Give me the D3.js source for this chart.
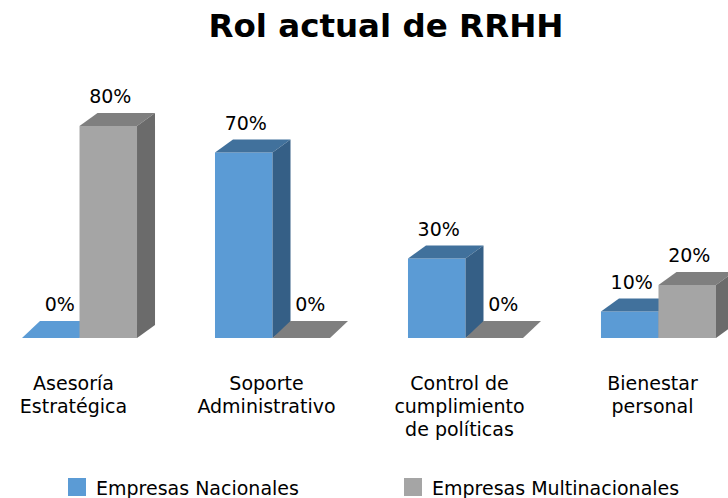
<!DOCTYPE html>
<html>
<head>
<meta charset="utf-8">
<script src="https://cdn.jsdelivr.net/npm/d3@7"></script>
<style>
  body { margin: 0; background: #fff; }
  text { font-family: "DejaVu Sans", Verdana, sans-serif; fill: #000; }
</style>
</head>
<body>
<svg id="SVG_CONTAINER" width="728" height="498"></svg>
<script>
// data
const categories = ["Asesoría Estratégica", "Soporte Administrativo", "Control de cumplimiento de políticas", "Bienestar personal"];
const categoryLines = [["Asesoría", "Estratégica"], ["Soporte", "Administrativo"], ["Control de", "cumplimiento", "de políticas"], ["Bienestar", "personal"]];
const seriesNames = ["Empresas Nacionales", "Empresas Multinacionales"];
const nacionales = [0, 70, 30, 10];
const multinacionales = [80, 0, 0, 20];

const width = 728, height = 498;
const BASE = 338;
const DX = 18, DY = -13;

const colours = [
    {front: "#5b9bd5", top: "#41719c", side: "#355f86", floor: "#5b9bd5"},
    {front: "#a5a5a5", top: "#7f7f7f", side: "#6b6b6b", floor: "#7f7f7f"}
];

let svg = d3.select("#SVG_CONTAINER");

// title
svg.append("text")
    .attr("x", 386)
    .attr("y", 37)
    .attr("text-anchor", "middle")
    .style("font-size", "32.5px")
    .style("font-weight", "bold")
    .text("Rol actual de RRHH");

// scales
let xScale = d3.scaleBand()
    .domain(categories)
    .range([22, 716])
    .paddingInner(0.404)
    .paddingOuter(0);

let xSub = d3.scaleBand()
    .domain(seriesNames)
    .range([0, xScale.bandwidth()]);

let yScale = d3.scaleLinear()
    .domain([0, 80])
    .range([BASE, BASE - 212]);

let chart = svg.append("g").attr("class", "bars");

let poly = function(pts) {
    return pts.map(p => p.join(",")).join(" ");
};

let values = [nacionales, multinacionales];

categories.forEach(function(cat, i) {
    seriesNames.forEach(function(s, j) {
        let v = values[j][i];
        let x0 = xScale(cat) + xSub(s);
        let x1 = x0 + xSub.bandwidth();
        let y = yScale(v);
        let c = colours[j];
        if (v === 0) {
            // flat floor
            chart.append("polygon")
                .attr("points", poly([[x0, BASE], [x1, BASE], [x1 + DX, BASE + DY - 4], [x0 + DX, BASE + DY - 4]]))
                .style("fill", c.floor);
        } else {
            chart.append("rect")
                .attr("x", x0)
                .attr("y", y)
                .attr("width", x1 - x0)
                .attr("height", BASE - y)
                .style("fill", c.front);
            chart.append("polygon")
                .attr("points", poly([[x0, y], [x1, y], [x1 + DX, y + DY], [x0 + DX, y + DY]]))
                .style("fill", c.top);
            chart.append("polygon")
                .attr("points", poly([[x1, y], [x1 + DX, y + DY], [x1 + DX, BASE + DY], [x1, BASE]]))
                .style("fill", c.side);
        }
        let ly = (v === 0 ? BASE + DY - 4 : y + DY) - 10;
        chart.append("text")
            .attr("x", (x0 + x1) / 2 + (v === 0 ? DX / 2 : 2))
            .attr("y", ly)
            .attr("text-anchor", "middle")
            .style("font-size", "19px")
            .text(v + "%");
    });

    // category label
    let t = svg.append("text")
        .attr("text-anchor", "middle")
        .style("font-size", "19px");
    categoryLines[i].forEach(function(line, k) {
        t.append("tspan")
            .attr("x", xScale(cat) + xScale.bandwidth() / 2 - 6)
            .attr("y", 390 + k * 23)
            .text(line);
    });
});

// legend
let legendX = [68, 404];
seriesNames.forEach(function(s, j) {
    svg.append("rect")
        .attr("x", legendX[j])
        .attr("y", 478)
        .attr("width", 18)
        .attr("height", 18)
        .style("fill", colours[j].front);
    svg.append("text")
        .attr("x", legendX[j] + 28)
        .attr("y", 495)
        .style("font-size", "19px")
        .text(s);
});
</script>
</body>
</html>
